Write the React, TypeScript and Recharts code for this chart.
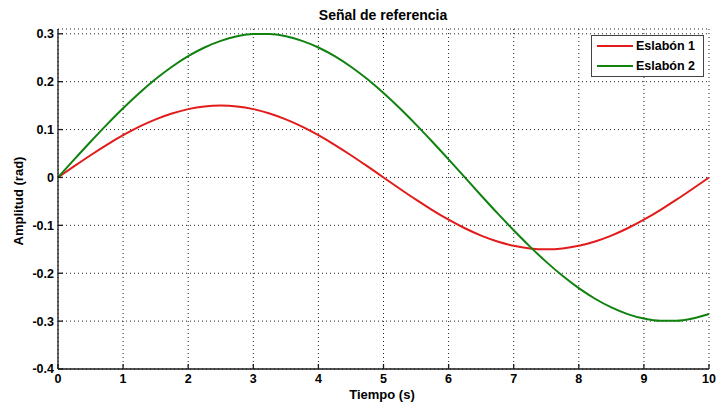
import { LineChart, Line, XAxis, YAxis, CartesianGrid, Legend } from "recharts";

// tiempo (s) y posición de cada eslabón (rad)
const tiempo = [
  0, 0.25, 0.5, 0.75, 1, 1.25, 1.5, 1.75, 2, 2.25, 2.5, 2.75, 3, 3.25, 3.5, 3.75, 4, 4.25, 4.5, 4.75,
  5, 5.25, 5.5, 5.75, 6, 6.25, 6.5, 6.75, 7, 7.25, 7.5, 7.75, 8, 8.25, 8.5, 8.75, 9, 9.25, 9.5, 9.75, 10,
];
const eslabon1 = [
  0, 0.0235, 0.0464, 0.0681, 0.0882, 0.1061, 0.1214, 0.1336, 0.1427, 0.1482, 0.15, 0.1482, 0.1427,
  0.1336, 0.1214, 0.1061, 0.0882, 0.0681, 0.0464, 0.0235, 0, -0.0235, -0.0464, -0.0681, -0.0882,
  -0.1061, -0.1214, -0.1336, -0.1427, -0.1482, -0.15, -0.1482, -0.1427, -0.1336, -0.1214, -0.1061,
  -0.0882, -0.0681, -0.0464, -0.0235, 0,
];
const eslabon2 = [
  0, 0.0376, 0.0746, 0.1104, 0.1445, 0.1763, 0.2054, 0.2312, 0.2533, 0.2714, 0.2853, 0.2947, 0.2994,
  0.2994, 0.2947, 0.2853, 0.2714, 0.2533, 0.2312, 0.2054, 0.1763, 0.1445, 0.1104, 0.0746, 0.0376, 0,
  -0.0376, -0.0746, -0.1104, -0.1445, -0.1763, -0.2054, -0.2312, -0.2533, -0.2714, -0.2853, -0.2947,
  -0.2994, -0.2994, -0.2947, -0.2853,
];
const xTicks = [0, 1, 2, 3, 4, 5, 6, 7, 8, 9, 10];
const yTicks = [-0.4, -0.3, -0.2, -0.1, 0, 0.1, 0.2, 0.3];

const series = [
  { key: "e1", name: "Eslabón 1", color: "#e21b1b" },
  { key: "e2", name: "Eslabón 2", color: "#0f820f" },
];

const data = tiempo.map((t, i) => ({ t, e1: eslabon1[i], e2: eslabon2[i] }));

const FONT = "'Liberation Sans', Arial, sans-serif";
const INK = "#1a1a1a";
const tickStyle = { fontSize: 12.5, fontWeight: 700, fill: "#000", fontFamily: FONT };

const textBase = {
  position: "absolute" as const,
  fontFamily: FONT,
  fontWeight: 700,
  whiteSpace: "nowrap" as const,
  color: "#000",
};

function LegendBox() {
  return (
    <div
      style={{
        border: "1px solid #444",
        background: "#fff",
        padding: "0 6px 0 5px",
        fontFamily: FONT,
        fontWeight: 700,
        fontSize: 12.5,
        color: "#000",
      }}
    >
      {series.map((s) => (
        <div key={s.key} style={{ display: "flex", alignItems: "center", height: 20 }}>
          <span style={{ width: 36, borderTop: `2px solid ${s.color}`, marginRight: 3 }} />
          {s.name}
        </div>
      ))}
    </div>
  );
}

export default function App() {
  return (
    <div style={{ position: "relative", width: 716, height: 409, background: "#fff" }}>
      <style>{"body{margin:0}"}</style>
      <LineChart
        width={716}
        height={409}
        data={data}
        margin={{ top: 29, right: 7, left: 0, bottom: 0 }}
      >
        <CartesianGrid stroke="#222" strokeDasharray="1 3" />
        <XAxis
          dataKey="t"
          type="number"
          domain={[0, 10]}
          ticks={xTicks}
          height={40}
          stroke={INK}
          strokeWidth={1.3}
          tickSize={-5}
          tickMargin={10}
          tick={tickStyle}
        />
        <XAxis
          xAxisId="top"
          orientation="top"
          mirror
          type="number"
          domain={[0, 10]}
          ticks={xTicks}
          height={0}
          stroke={INK}
          strokeWidth={1.3}
          tickSize={5}
          tick={false}
        />
        <YAxis
          type="number"
          domain={[-0.4, 0.31]}
          ticks={yTicks}
          width={58}
          stroke={INK}
          strokeWidth={1.3}
          tickSize={-5}
          tickMargin={9}
          tick={tickStyle}
          allowDataOverflow
        />
        <YAxis
          yAxisId="r"
          orientation="right"
          mirror
          type="number"
          domain={[-0.4, 0.31]}
          ticks={yTicks}
          width={0}
          stroke={INK}
          strokeWidth={1.3}
          tickSize={5}
          tick={false}
          allowDataOverflow
        />
        <Legend
          layout="vertical"
          align="center"
          verticalAlign="middle"
          content={<LegendBox />}
          wrapperStyle={{ position: "absolute", top: 35, left: 591, width: 113, right: "auto", bottom: "auto" }}
        />
        {series.map((s) => (
          <Line
            key={s.key}
            dataKey={s.key}
            name={s.name}
            type="monotone"
            stroke={s.color}
            strokeWidth={2}
            dot={false}
            isAnimationActive={false}
          />
        ))}
      </LineChart>
      <div style={{ ...textBase, left: 383, top: 15, fontSize: 14, transform: "translate(-50%, -50%)" }}>
        Señal de referencia
      </div>
      <div style={{ ...textBase, left: 382, top: 394, fontSize: 13, transform: "translate(-50%, -50%)" }}>
        Tiempo (s)
      </div>
      <div
        style={{
          ...textBase,
          left: 18,
          top: 201,
          fontSize: 13,
          transform: "translate(-50%, -50%) rotate(-90deg)",
        }}
      >
        Amplitud (rad)
      </div>
    </div>
  );
}
